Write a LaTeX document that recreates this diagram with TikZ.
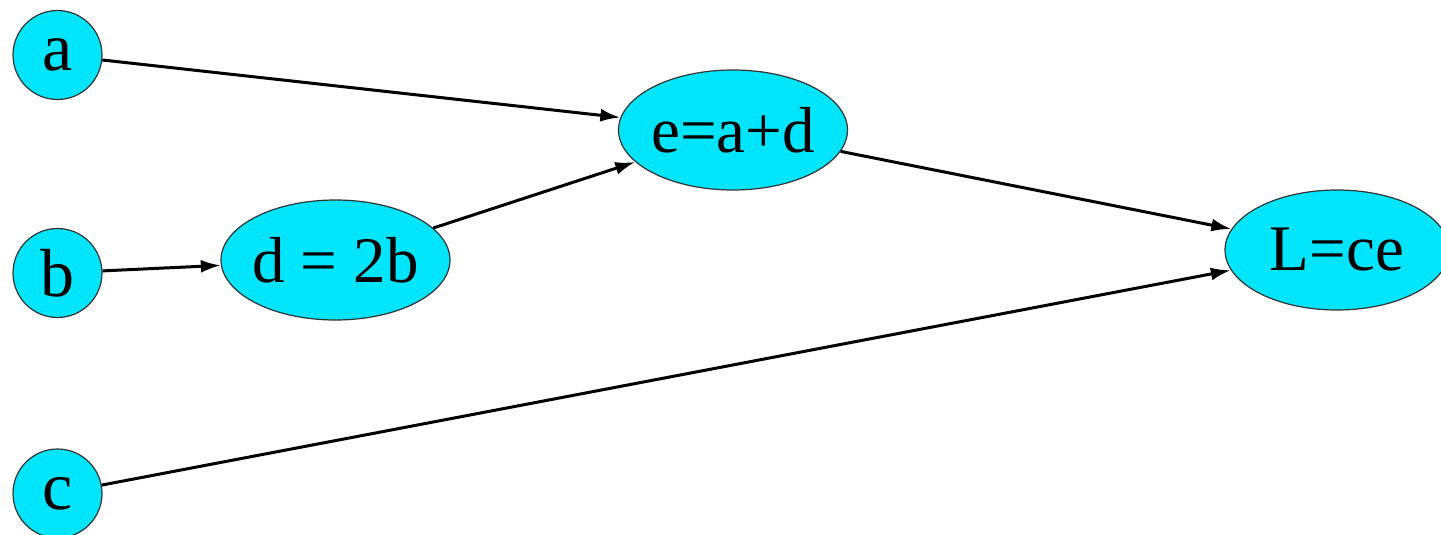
\documentclass[tikz,border=0pt]{standalone}
\usepackage{fontspec}
\setmainfont{Liberation Serif}
\usetikzlibrary{shapes.geometric,arrows.meta}
\definecolor{nodecyan}{RGB}{0,229,252}
\newcommand{\zerow}[1]{\makebox[0pt]{#1}}
\begin{document}
\begin{tikzpicture}[x=1pt,y=-1pt,
  innode/.style={circle,draw=black!80,line width=1.2pt,fill=nodecyan,minimum size=89pt,inner sep=0pt,font=\fontsize{68}{68}\selectfont},
  opnode/.style={ellipse,draw=black!80,line width=1.2pt,fill=nodecyan,minimum width=229pt,minimum height=120pt,inner sep=0pt,font=\fontsize{65}{65}\selectfont},
  edge/.style={line width=3pt,-{Latex[length=20pt,width=13pt]}}]
\useasboundingbox (0,0) rectangle (1441,535);
\node[innode] (a) at (57.5,55) {a};
\node[innode] (b) at (57.5,273) {b};
\node[innode] (c) at (57.5,493.5) {c};
\node[opnode] (d) at (335.5,260) {\zerow{d = 2b}};
\node[opnode] (e) at (733,130) {\zerow{e=a+d}};
\node[opnode,minimum width=224pt] (L) at (1337,250) {\zerow{L=ce}};
\draw[edge] (a) -- (e);
\draw[edge] (b) -- (d);
\draw[edge] (d) -- (e);
\draw[edge] (e) -- (L);
\draw[edge] (c) -- (L);
\end{tikzpicture}
\end{document}
